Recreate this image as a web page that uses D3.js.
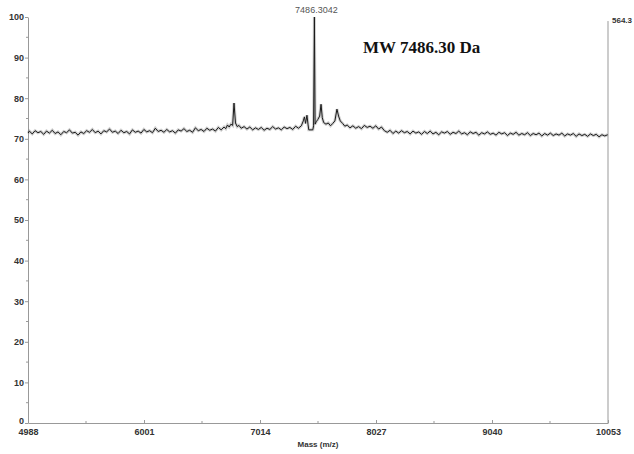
<!DOCTYPE html>
<html>
<head>
<meta charset="utf-8">
<script src="https://cdn.jsdelivr.net/npm/d3@7"></script>
<style>
  body { margin: 0; background: #fff; }
  svg { display: block; }
  .axis text { font-family: "Liberation Sans", Arial, sans-serif; font-size: 9px; font-weight: bold; fill: #333; }
  .axis path, .axis line { stroke: #999; }
</style>
</head>
<body>
<script>
// spectrum values (mass in m/z, relative intensity in %)
var masses = [
  4990, 5000, 5025, 5050, 5075, 5100, 5125, 5150, 5175, 5200,
  5225, 5250, 5275, 5300, 5325, 5350, 5375, 5400, 5425, 5450,
  5475, 5500, 5525, 5550, 5575, 5600, 5625, 5650, 5675, 5700,
  5725, 5750, 5775, 5800, 5825, 5850, 5875, 5900, 5925, 5950,
  5975, 6000, 6025, 6050, 6075, 6100, 6125, 6150, 6175, 6200,
  6225, 6250, 6275, 6300, 6325, 6350, 6375, 6400, 6425, 6450,
  6475, 6500, 6525, 6550, 6575, 6600, 6625, 6650, 6675,
  6700, 6715, 6730, 6745, 6760, 6775, 6787, 6800, 6815, 6830, 6850, 6875,
  6900, 6925, 6950, 6975, 7000, 7025, 7050, 7075, 7100, 7125,
  7150, 7175, 7200, 7225, 7250, 7275, 7300, 7325, 7350, 7375,
  7392, 7402, 7412, 7424, 7434, 7440, 7475, 7482, 7489, 7495,
  7505, 7520, 7535, 7547, 7558, 7570, 7590, 7610, 7630, 7650,
  7668, 7686, 7700, 7715, 7735, 7755,
  7775, 7800, 7825, 7850, 7875, 7900, 7925, 7950, 7975, 8000,
  8025, 8050, 8075, 8100, 8125, 8150, 8175, 8200, 8225, 8250,
  8275, 8300, 8325, 8350, 8375, 8400, 8425, 8450, 8475, 8500,
  8525, 8550, 8575, 8600, 8625, 8650, 8675, 8700, 8725, 8750,
  8775, 8800, 8825, 8850, 8875, 8900, 8925, 8950, 8975, 9000,
  9025, 9050, 9075, 9100, 9125, 9150, 9175, 9200, 9225, 9250,
  9275, 9300, 9325, 9350, 9375, 9400, 9425, 9450, 9475, 9500,
  9525, 9550, 9575, 9600, 9625, 9650, 9675, 9700, 9725, 9750,
  9775, 9800, 9825, 9850, 9875, 9900, 9925, 9950, 9975, 10000,
  10025, 10050
];

var intensity = [
  71.4, 71.9, 71.2, 72.0, 71.5, 71.8, 71.1, 71.9, 71.4, 72.1,
  71.3, 71.7, 71.0, 71.8, 71.5, 72.2, 71.4, 71.6, 70.9, 71.7,
  71.3, 72.0, 71.6, 72.3, 71.5, 71.9, 71.2, 72.0, 71.7, 72.4,
  71.6, 71.9, 71.3, 72.1, 71.5, 71.8, 71.2, 72.2, 71.6, 71.9,
  71.4, 72.3, 71.7, 72.0, 71.5, 72.6, 71.8, 72.1, 71.6, 72.3,
  71.7, 72.0, 71.4, 72.2, 71.9, 72.5, 71.8, 72.1, 71.6, 72.7,
  72.0, 72.3, 71.8, 72.6, 72.1, 72.4, 71.9, 72.8, 72.2,
  72.9, 72.5, 73.4, 72.9, 73.6, 73.3, 78.8, 73.9, 73.0, 73.3, 72.6, 73.0,
  72.4, 72.9, 72.2, 72.7, 72.3, 72.8, 72.1, 72.6, 72.3, 73.0,
  72.4, 72.7, 72.2, 72.9, 72.5, 72.8, 72.3, 73.1, 72.6, 73.2,
  74.4, 75.4, 73.8, 75.8, 73.4, 72.2, 72.2, 73.2, 100, 73.6,
  74.2, 74.8, 75.6, 78.5, 75.2, 74.0, 73.6, 73.9, 73.2, 73.8,
  74.4, 77.3, 75.6, 74.4, 73.8, 73.1,
  73.4, 72.7, 73.2, 72.6, 73.0, 72.5, 73.3, 72.8, 73.1, 72.6,
  73.2, 72.4, 72.9, 72.0, 71.6, 72.1, 71.3, 71.9, 71.4, 72.0,
  71.5, 71.8, 71.2, 71.9, 71.4, 71.7, 71.1, 71.8, 71.3, 71.9,
  71.2, 71.6, 71.0, 71.7, 71.4, 71.8, 71.1, 71.6, 71.3, 71.9,
  71.2, 71.5, 71.0, 71.7, 71.3, 71.6, 70.9, 71.5, 71.2, 71.7,
  71.1, 71.4, 70.9, 71.6, 71.2, 71.5, 70.8, 71.4, 71.1, 71.6,
  70.9, 71.3, 71.0, 71.5, 70.8, 71.3, 71.0, 71.4, 70.7, 71.3,
  70.9, 71.4, 70.8, 71.2, 70.9, 71.4, 70.7, 71.2, 70.9, 71.3,
  70.6, 71.2, 70.8, 71.1, 70.6, 71.2, 70.8, 71.1, 70.5, 71.0,
  70.7, 71.0
];

var yTicks = [0, 10, 20, 30, 40, 50, 60, 70, 80, 90, 100];
var yMinor = [5, 15, 25, 35, 45, 55, 65, 75, 85, 95];
var xTicks = [4988, 6001, 7014, 8027, 9040, 10053];
var xMinor = [5494.5, 6507.5, 7520.5, 8533.5, 9546.5];
var peakLabel = {mass: 7489, value: 100, text: "7486.3042"};
var maxCounts = "564.3";
var title = "MW 7486.30 Da";

// plot frame
var width = 634, height = 454;
var margin = {top: 17, right: 26, bottom: 31, left: 28};

var svg = d3.select("body").append("svg")
    .attr("width", width)
    .attr("height", height);

var x = d3.scaleLinear()
    .domain([4988, 10053])
    .range([margin.left, width - margin.right]);

var y = d3.scaleLinear()
    .domain([0, 100])
    .range([height - margin.bottom, margin.top]);

// left axis
var yAxis = svg.append("g")
    .attr("class", "axis")
    .attr("transform", "translate(" + margin.left + ",0)")
    .call(d3.axisLeft(y).tickValues(yTicks).tickSize(3).tickSizeOuter(0).tickPadding(1));

// lift the zero label a little so it clears the first mass label
yAxis.selectAll(".tick text").filter(d => d === 0).attr("dy", "0.1em");

yAxis.selectAll(".minor")
    .data(yMinor)
  .enter().append("line")
    .attr("class", "minor")
    .attr("x1", -2).attr("x2", 0)
    .attr("y1", d => y(d)).attr("y2", d => y(d));

// bottom axis
var xAxis = svg.append("g")
    .attr("class", "axis")
    .attr("transform", "translate(0," + y(0) + ")")
    .call(d3.axisBottom(x).tickValues(xTicks).tickFormat(d3.format("d")).tickSize(-3).tickSizeOuter(0).tickPadding(6));

xAxis.selectAll(".minor")
    .data(xMinor)
  .enter().append("line")
    .attr("class", "minor")
    .attr("x1", d => x(d)).attr("x2", d => x(d))
    .attr("y1", -2).attr("y2", 0);

// right axis line and full-scale counts
svg.append("line")
    .attr("x1", x(10053)).attr("x2", x(10053))
    .attr("y1", y(99)).attr("y2", y(0))
    .attr("stroke", "#999");

svg.append("text")
    .attr("x", x(10053) + 4)
    .attr("y", y(98.5))
    .attr("font-family", "Liberation Sans, Arial, sans-serif")
    .attr("font-size", 8)
    .attr("font-weight", "bold")
    .attr("fill", "#333")
    .text(maxCounts);

// axis title
svg.append("text")
    .attr("x", (x(4988) + x(10053)) / 2)
    .attr("y", 447)
    .attr("text-anchor", "middle")
    .attr("font-family", "Liberation Sans, Arial, sans-serif")
    .attr("font-size", 8)
    .attr("font-weight", "bold")
    .attr("fill", "#333")
    .text("Mass (m/z)");

// spectrum trace: a soft wide stroke for the noise haze, then the line itself
var line = d3.line()
    .x((d, i) => x(masses[i]))
    .y(d => y(d));

svg.append("path")
    .datum(intensity)
    .attr("d", line)
    .attr("fill", "none")
    .attr("stroke", "#777")
    .attr("stroke-opacity", 0.35)
    .attr("stroke-width", 3);

svg.append("path")
    .datum(intensity)
    .attr("d", line)
    .attr("fill", "none")
    .attr("stroke", "#1a1a1a")
    .attr("stroke-width", 1)
    .attr("stroke-linejoin", "miter");

// peak label
svg.append("text")
    .attr("x", x(peakLabel.mass) + 2)
    .attr("y", y(peakLabel.value) - 4)
    .attr("text-anchor", "middle")
    .attr("font-family", "Liberation Sans, Arial, sans-serif")
    .attr("font-size", 9)
    .attr("fill", "#555")
    .text(peakLabel.text);

// molecular weight note
svg.append("text")
    .attr("x", 363)
    .attr("y", 53)
    .attr("font-family", "Liberation Serif, Times New Roman, serif")
    .attr("font-size", 17)
    .attr("font-weight", "bold")
    .attr("fill", "#111")
    .text(title);
</script>
</body>
</html>
